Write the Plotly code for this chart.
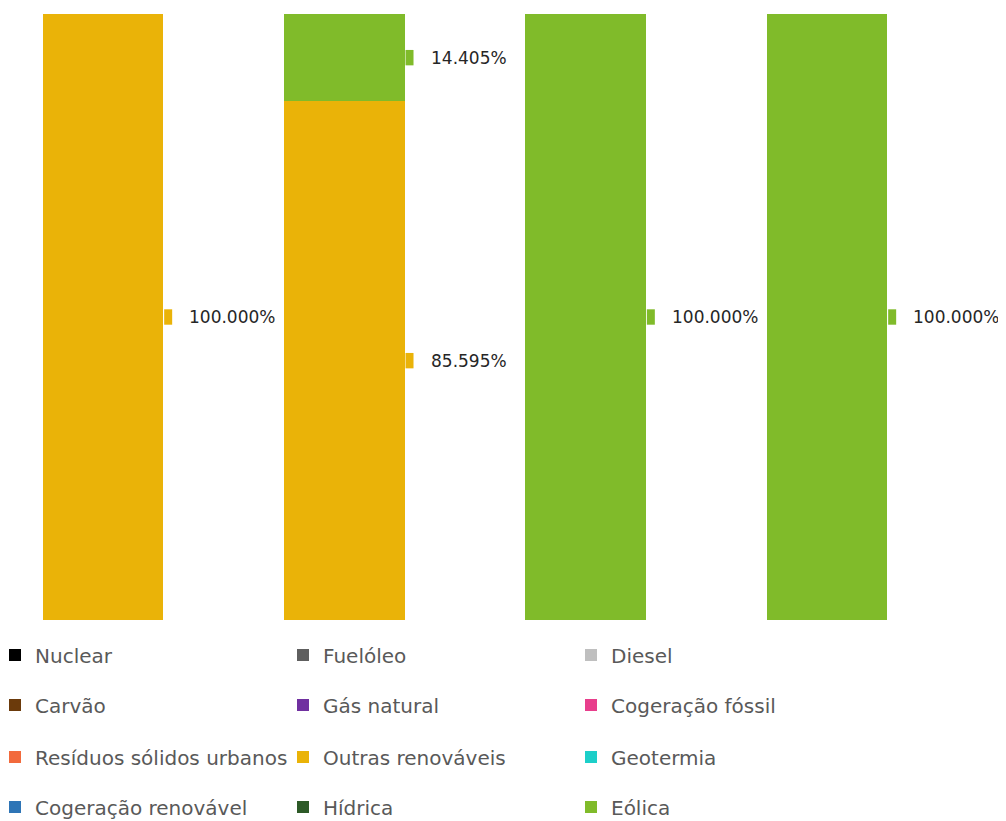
import plotly.graph_objects as go

categories = ["1", "2", "3", "4"]
series_names = ["Nuclear", "Fuelóleo", "Diesel", "Carvão", "Gás natural", "Cogeração fóssil",
                "Resíduos sólidos urbanos", "Outras renováveis", "Geotermia",
                "Cogeração renovável", "Hídrica", "Eólica"]
series_colors = ["#000000", "#5F5F5F", "#BFBFBF", "#6B3A0B", "#7030A0", "#E83E8C",
                 "#F26A3C", "#EAB308", "#1CCFC9", "#2E75B6", "#2D5A27", "#80BB2A"]
series_values = {
    "Nuclear": [0, 0, 0, 0],
    "Fuelóleo": [0, 0, 0, 0],
    "Diesel": [0, 0, 0, 0],
    "Carvão": [0, 0, 0, 0],
    "Gás natural": [0, 0, 0, 0],
    "Cogeração fóssil": [0, 0, 0, 0],
    "Resíduos sólidos urbanos": [0, 0, 0, 0],
    "Outras renováveis": [100.0, 85.595, 0, 0],
    "Geotermia": [0, 0, 0, 0],
    "Cogeração renovável": [0, 0, 0, 0],
    "Hídrica": [0, 0, 0, 0],
    "Eólica": [0, 14.405, 100.0, 100.0],
}

xpos = list(range(len(categories)))
bar_width = 0.5
FONT = "DejaVu Sans"

fig = go.Figure()
legend_ids = ["legend", "legend2", "legend3", "legend4"]
for i, (name, color) in enumerate(zip(series_names, series_colors)):
    fig.add_trace(go.Bar(
        x=xpos, y=series_values[name], name=name, width=bar_width,
        marker=dict(color=color, line=dict(width=0)),
        legend=legend_ids[i // 3], hoverinfo="skip",
    ))

# data labels with small colored markers
cum = [0.0] * len(categories)
mx, my, mc = [], [], []
annotations = []
for name, color in zip(series_names, series_colors):
    vals = series_values[name]
    for j, v in enumerate(vals):
        if v > 0:
            mid = cum[j] + v / 2
            mx.append(xpos[j] + 0.27)
            my.append(mid)
            mc.append(color)
            annotations.append(dict(
                x=xpos[j] + 0.27, y=mid, xref="x", yref="y",
                text=f"{v:.3f}%", showarrow=False, xanchor="left", yanchor="middle",
                xshift=19, font=dict(family=FONT, size=17, color="#262626"),
            ))
        cum[j] += v

fig.add_trace(go.Scatter(
    x=mx, y=my, mode="markers", showlegend=False, hoverinfo="skip",
    marker=dict(symbol="line-ns", size=11, color=mc, line=dict(width=8, color=mc)),
))

legend_rows_y = [-0.0578, -0.1403, -0.2261, -0.3086]
legend_common = dict(orientation="h", x=-13 / 1006, xanchor="left", yanchor="middle",
                     traceorder="normal",
                     entrywidth=243, entrywidthmode="pixels",
                     font=dict(family=FONT, size=20, color="#595959"),
                     itemclick=False, itemdoubleclick=False, bgcolor="rgba(0,0,0,0)")
layout_legends = {}
for k, lid in enumerate(legend_ids):
    layout_legends[lid] = dict(legend_common, y=legend_rows_y[k])

fig.update_layout(
    barmode="stack",
    width=1006, height=821,
    margin=dict(l=0, r=0, t=6, b=209, autoexpand=False),
    paper_bgcolor="white", plot_bgcolor="white",
    xaxis=dict(range=[-0.3937, 3.7748], showticklabels=False, showgrid=False,
               zeroline=False, showline=False, fixedrange=True),
    yaxis=dict(range=[0, 100], showticklabels=False, showgrid=False,
               zeroline=False, showline=False, fixedrange=True),
    annotations=annotations,
    showlegend=True,
    **layout_legends,
)

fig.write_html("out.html")
